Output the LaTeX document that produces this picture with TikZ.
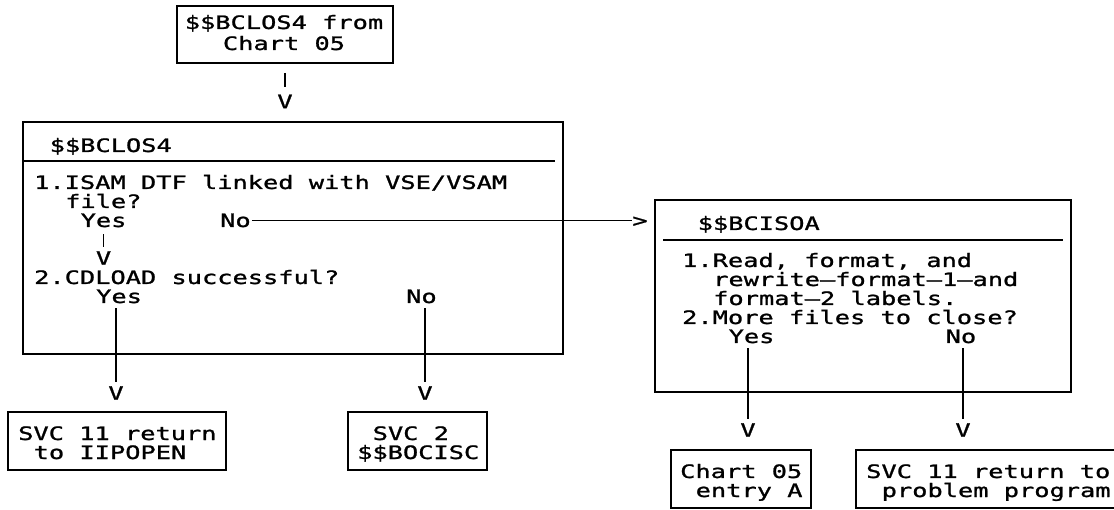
\documentclass[tikz,border=0pt]{standalone}
\usepackage{fontspec}
\newfontfamily\monofam[FakeStretch=1.37,FakeBold=1.2]{DejaVu Sans Mono}
\newcommand{\chartfont}{\monofam\fontsize{18.5}{22}\selectfont}
\begin{document}
\begin{tikzpicture}[x=1pt,y=-1pt,
  box/.style={draw, line width=1.7pt, inner sep=0pt},
  txt/.style={font=\chartfont, anchor=base west, inner sep=0pt},
  sym/.style={font=\chartfont, anchor=center, inner sep=0pt},
  conn/.style={line width=1.7pt}]
\useasboundingbox (0,0) rectangle (1114,510);
\clip (0,0) rectangle (1114,510);

% top box
\node[box, minimum width=216, minimum height=57] (top) at (285,34.5) {};
\node[txt, anchor=base] (top1) at (284,29) {\$\$BCLOS4 from};
\node[txt, anchor=base] (top2) at (284,50) {Chart 05};
\node[sym] (v0) at (285,101.5) {V};
\draw[conn, shorten <=9pt, shorten >=8pt] (top.south) -- (v0.north);

% main box
\node[box, minimum width=540, minimum height=232] (main) at (293,238) {};
\coordinate (msepend) at (555,161);
\draw[conn] (main.west |- msepend) -- (msepend);
\node[txt] (mh) at (49.5,152) {\$\$BCLOS4};
\node[txt] (m1) at (34,189) {1.ISAM DTF linked with VSE/VSAM};
\node[txt] (m2) at (65,208) {file?};
\node[txt] (my1) at (80.5,227) {Yes};
\node[txt] (mn1) at (220,227) {No};
\node[sym] (v1) at (my1.base |- 0,258) {V};
\draw[conn, shorten <=7pt, shorten >=4pt] (my1.south) -- (v1.north);
\node[txt] (m3) at (34,284) {2.CDLOAD successful?};
\node[txt] (my2) at (96,303) {Yes};
\node[txt] (mn2) at (406,303) {No};
\node[sym] (v2) at (116,393) {V};
\node[sym] (v3) at (425,393) {V};
\draw[conn, shorten <=5pt, shorten >=4pt] (my2.south -| v2.north) -- (v2.north);
\draw[conn, shorten <=5pt, shorten >=4pt] (mn2.south -| v3.north) -- (v3.north);

% No branch to right box
\node[txt, anchor=base] (gt) at (640,227) {>};
\draw[conn, shorten <=1pt] (mn1.east) -- (mn1.east -| gt.west);

% right box
\node[box, minimum width=416, minimum height=192] (rb) at (863,296) {};
\coordinate (rsepa) at (663,240);
\coordinate (rsepb) at (1063,240);
\draw[conn] (rsepa) -- (rsepb);
\node[txt] (rh) at (697.5,230) {\$\$BCISOA};
\node[txt] (r1) at (682,267) {1.Read, format, and};
\node[txt] (r2) at (713,286) {rewrite—format—1—and};
\node[txt] (r3) at (713,305) {format—2 labels.};
\node[txt] (r4) at (682,324) {2.More files to close?};
\node[txt] (ry) at (728.5,343) {Yes};
\node[txt] (rn) at (945.5,343) {No};
\node[sym] (v4) at (748,430) {V};
\node[sym] (v5) at (963,430) {V};
\draw[conn, shorten <=5pt, shorten >=4pt] (ry.south -| v4.north) -- (v4.north);
\draw[conn, shorten <=5pt, shorten >=4pt] (rn.south -| v5.north) -- (v5.north);

% bottom boxes
\node[box, minimum width=218, minimum height=58] (b1) at (117,441) {};
\node[txt] (b1a) at (18,440) {SVC 11 return};
\node[txt] (b1b) at (33.5,459) {to IIPOPEN};

\node[box, minimum width=139, minimum height=58] (b2) at (417.5,441) {};
\node[txt] (b2a) at (372.5,440) {SVC 2};
\node[txt] (b2b) at (357,459) {\$\$BOCISC};

\node[box, minimum width=140, minimum height=58] (b3) at (741,479) {};
\node[txt] (b3a) at (680,478) {Chart 05};
\node[txt] (b3b) at (695.5,497) {entry A};

\node[box, minimum width=262, minimum height=58] (b4) at (987,479) {};
\node[txt] (b4a) at (866,478) {SVC 11 return to};
\node[txt] (b4b) at (881.5,497) {problem program};
\end{tikzpicture}
\end{document}
